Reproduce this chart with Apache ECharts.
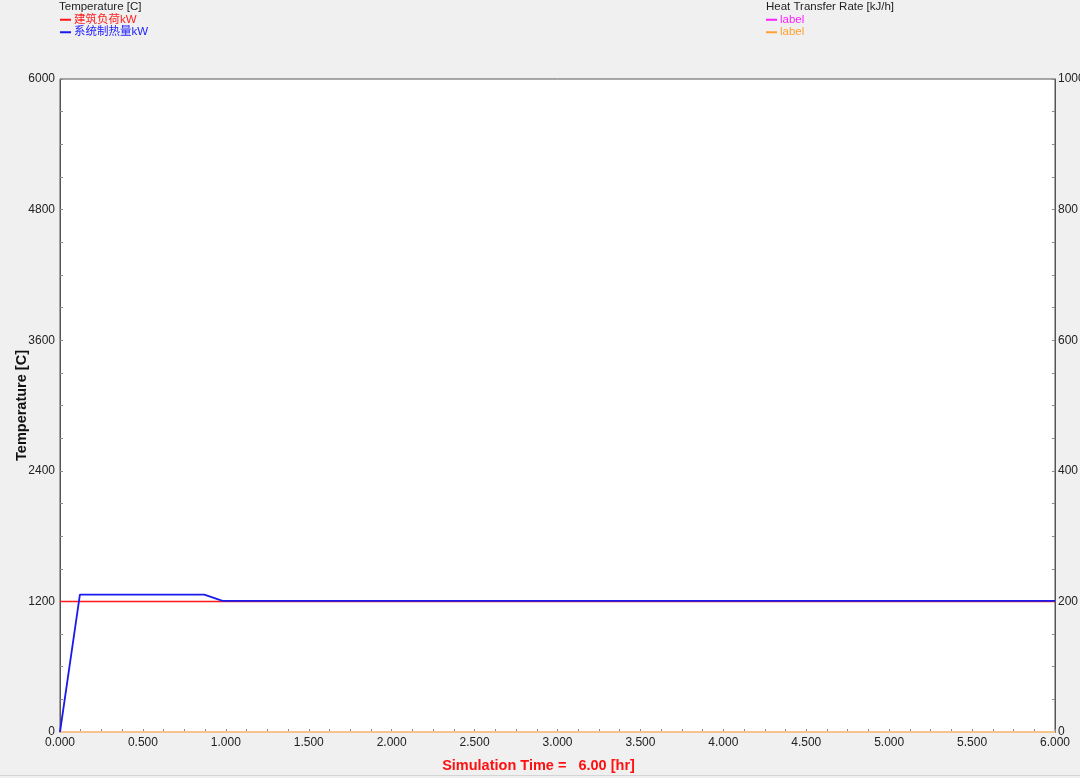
<!DOCTYPE html>
<html>
<head>
<meta charset="utf-8">
<script src="https://cdn.jsdelivr.net/npm/echarts@6/dist/echarts.min.js"></script>
<style>
html,body{margin:0;padding:0;background:#f0f0f0;}
#c{width:1080px;height:778px;}
</style>
</head>
<body>
<div id="c"></div>
<script>
// Data
var loadX = [0, 6];
var loadY = [1200, 1200];
var sysX = [0, 0.12, 0.87, 0.98, 6];
var sysY = [0, 1262, 1262, 1205, 1205];
var rateX = [0, 6];
var rateMagenta = [0, 0];
var rateOrange = [0, 0];
var leftTicks = [0, 1200, 2400, 3600, 4800, 6000];
var rightTicks = [0, 200, 400, 600, 800, 1000];
var xTicks = [0, 0.5, 1, 1.5, 2, 2.5, 3, 3.5, 4, 4.5, 5, 5.5, 6];

function pairs(xs, ys){ return xs.map(function(x,i){return [x, ys[i]];}); }

var FONT = '"Liberation Sans", Arial, "Noto Sans CJK SC", sans-serif';
var chart = echarts.init(document.getElementById('c'));
chart.setOption({
  backgroundColor: '#f0f0f0',
  animation: false,
  textStyle: {fontFamily: FONT},
  title: [
    {text: 'Temperature [C]', left: 59, top: 1, padding: 0, textStyle: {fontSize: 11.5, fontWeight: 'normal', color: '#222', fontFamily: FONT}},
    {text: 'Heat Transfer Rate [kJ/h]', left: 766, top: 1, padding: 0, textStyle: {fontSize: 11.5, fontWeight: 'normal', color: '#222', fontFamily: FONT}}
  ],
  legend: [
    {left: 60, top: 14, padding: 0, orient: 'vertical', itemGap: 1, itemWidth: 11, itemHeight: 2, icon: 'rect',
     textStyle: {fontSize: 11.5, padding: [0,0,0,-2], fontFamily: FONT},
     data: [{name: '建筑负荷kW', textStyle: {color: '#ff2020'}}, {name: '系统制热量kW', textStyle: {color: '#2020ff'}}]},
    {left: 766, top: 14, padding: 0, orient: 'vertical', itemGap: 1, itemWidth: 11, itemHeight: 2, icon: 'rect',
     textStyle: {fontSize: 11.5, padding: [0,0,0,-2], fontFamily: FONT},
     data: [{name: 'label', textStyle: {color: '#ff20ff'}}, {name: 'label ', textStyle: {color: '#ffa030'}}]}
  ],
  grid: {left: 60, right: 25, top: 79, bottom: 46, containLabel: false, outerBoundsMode: 'none',
         show: true, backgroundColor: '#ffffff', borderColor: '#555', borderWidth: 1},
  xAxis: {
    type: 'value', min: 0, max: 6, interval: 0.5,
    name: 'Simulation Time =   6.00 [hr]', nameLocation: 'middle', nameGap: 27, nameMoveOverlap: false,
    nameTextStyle: {color: '#ff1010', fontWeight: 'bold', fontSize: 14.5, fontFamily: FONT, padding: [0, 38, 0, 0]},
    axisLine: {lineStyle: {color: '#555'}},
    axisTick: {show: true, inside: true, length: 3, lineStyle: {color: '#888'}},
    minorTick: {show: true, splitNumber: 4, length: 3, lineStyle: {color: '#888'}},
    axisLabel: {color: '#222', fontSize: 12, margin: 5, formatter: function(v){return v.toFixed(3);}},
    splitLine: {show: false}
  },
  yAxis: [
    {type: 'value', min: 0, max: 6000, interval: 1200, position: 'left',
     name: 'Temperature [C]', nameLocation: 'middle', nameGap: 31, nameRotate: 90, nameMoveOverlap: false,
     nameTextStyle: {color: '#111', fontWeight: 'bold', fontSize: 14.5, fontFamily: FONT},
     axisLine: {show: true, lineStyle: {color: '#555'}},
     axisTick: {show: true, inside: true, length: 3, lineStyle: {color: '#888'}},
     minorTick: {show: true, splitNumber: 4, length: 3, lineStyle: {color: '#888'}},
     axisLabel: {color: '#222', fontSize: 12, margin: 5, formatter: function(v){return String(v);}},
     splitLine: {show: false}},
    {type: 'value', min: 0, max: 1000, interval: 200, position: 'right',
     axisLine: {show: true, lineStyle: {color: '#555'}},
     axisTick: {show: true, inside: true, length: 3, lineStyle: {color: '#888'}},
     minorTick: {show: true, splitNumber: 4, length: 3, lineStyle: {color: '#888'}},
     axisLabel: {color: '#222', fontSize: 12, margin: 3, formatter: function(v){return String(v);}},
     splitLine: {show: false}}
  ],
  series: [
    {name: 'label', type: 'line', yAxisIndex: 1, data: pairs(rateX, rateMagenta), showSymbol: false, itemStyle: {color: '#ff20ff'}, lineStyle: {width: 1.5, color: '#ff20ff'}, z: 2},
    {name: 'label ', type: 'line', yAxisIndex: 1, data: pairs(rateX, rateOrange), showSymbol: false, clip: false, itemStyle: {color: '#ffa030'}, lineStyle: {width: 2, color: '#f6c48c'}, z: 3},
    {name: '建筑负荷kW', type: 'line', data: pairs(loadX, loadY), showSymbol: false, itemStyle: {color: '#ff1a1a'}, lineStyle: {width: 1.5, color: '#ff1a1a'}, z: 4},
    {name: '系统制热量kW', type: 'line', data: pairs(sysX, sysY), showSymbol: false, itemStyle: {color: '#1a1aee'}, lineStyle: {width: 1.8, color: '#1a1aee'}, z: 5}
  ],
  graphic: [
    {type: 'rect', left: 0, top: 775, shape: {width: 1080, height: 1}, style: {fill: '#d4d4d4'}}
  ]
});
</script>
</body>
</html>
